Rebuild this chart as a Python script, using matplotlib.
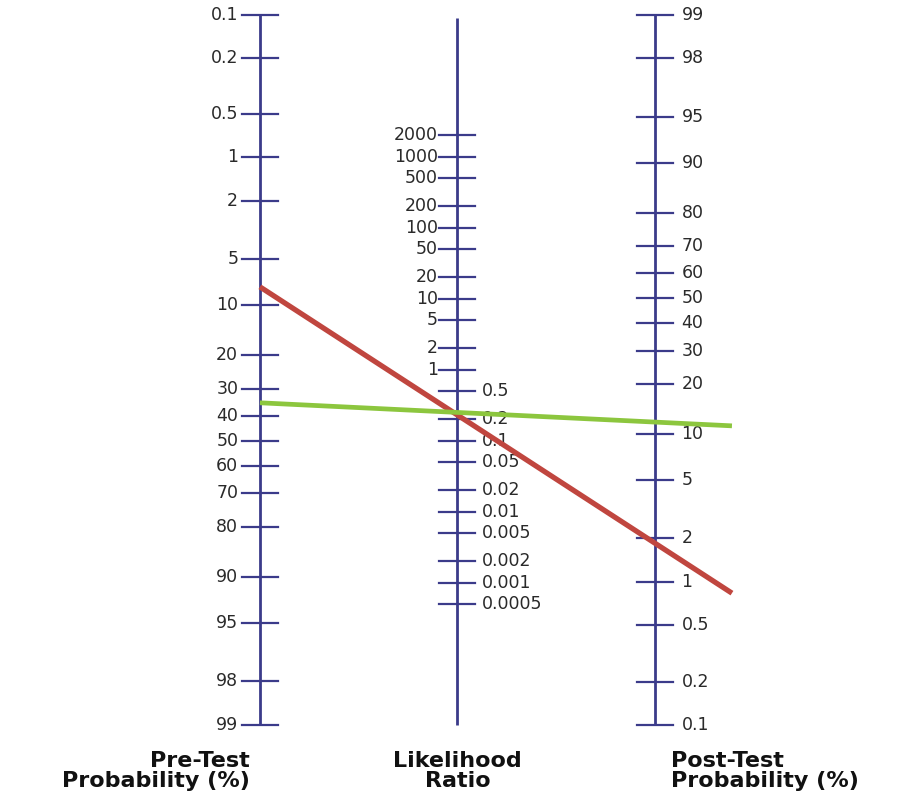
import numpy as np
import matplotlib
matplotlib.use("Agg")
import matplotlib.pyplot as plt

# Fagan nomogram: pre-test probability, likelihood ratio, post-test probability
pre_ticks = [0.1, 0.2, 0.5, 1, 2, 5, 10, 20, 30, 40, 50, 60, 70, 80, 90, 95, 98, 99]
lr_ticks = [2000, 1000, 500, 200, 100, 50, 20, 10, 5, 2, 1,
            0.5, 0.2, 0.1, 0.05, 0.02, 0.01, 0.005, 0.002, 0.001, 0.0005]
post_ticks = [99, 98, 95, 90, 80, 70, 60, 50, 40, 30, 20, 10, 5, 2, 1, 0.5, 0.2, 0.1]
pre_labels = ["0.1", "0.2", "0.5", "1", "2", "5", "10", "20", "30", "40", "50",
              "60", "70", "80", "90", "95", "98", "99"]
lr_labels = ["2000", "1000", "500", "200", "100", "50", "20", "10", "5", "2", "1",
             "0.5", "0.2", "0.1", "0.05", "0.02", "0.01", "0.005", "0.002", "0.001", "0.0005"]
post_labels = ["99", "98", "95", "90", "80", "70", "60", "50", "40", "30", "20",
               "10", "5", "2", "1", "0.5", "0.2", "0.1"]

# Two worked examples
example_pretest = [7.6, 35.0]          # percent
example_lr = [0.23, 0.25]
example_colors = ["#c0463f", "#8cc63e"]
example_widths = [3.8, 3.4]

AXIS_COLOR = "#3b3b8a"
TEXT_COLOR = "#2a2a2a"


def logit(p_percent):
    p = np.asarray(p_percent, dtype=float) / 100.0
    return np.log(p / (1.0 - p))


# Vertical coordinate: left scale reads -logit(pre), right scale logit(post) + shift,
# middle scale ln(LR)/2 + shift/2, so a straight line links the three readings.
def y_pre(p):
    return -logit(p)


def y_post(p):
    # 99 % on the right sits level with 0.1 % on the left
    return logit(p) - logit(99) + (-logit(0.1))


def y_lr(lr):
    return 0.5 * np.log(np.asarray(lr, dtype=float)) + 0.5 * (y_pre(50) + y_post(50))


fig = plt.figure(figsize=(9.02, 7.98), dpi=100)
ax = fig.add_axes([0, 0, 1, 1])
ax.set_xlim(-1.316, 3.251)
ax.set_ylim(-5.786, 7.147)
ax.axis("off")

x_left, x_mid, x_right = 0.0, 1.0, 2.0
tick_half = 0.091
top = y_pre(0.1)
bottom = y_pre(99)

# axis spines
for xa, ytop in ((x_left, top), (x_mid, top - 0.05), (x_right, top)):
    ax.plot([xa, xa], [bottom, ytop], color=AXIS_COLOR, lw=2.0, solid_capstyle="butt", zorder=2)

tick_font = dict(fontsize=12.5, color=TEXT_COLOR, family="DejaVu Sans")

# left scale
for v, lab in zip(pre_ticks, pre_labels):
    yy = y_pre(v)
    ax.plot([x_left - tick_half, x_left + tick_half], [yy, yy], color=AXIS_COLOR, lw=1.6, zorder=2)
    ax.text(x_left - 0.11, yy, lab, ha="right", va="center", **tick_font)

# middle scale
for v, lab in zip(lr_ticks, lr_labels):
    yy = y_lr(v)
    ax.plot([x_mid - tick_half, x_mid + tick_half], [yy, yy], color=AXIS_COLOR, lw=1.6, zorder=2)
    if v >= 1:
        ax.text(x_mid - 0.10, yy, lab, ha="right", va="center", **tick_font)
    else:
        ax.text(x_mid + 0.125, yy, lab, ha="left", va="center", **tick_font)

# right scale
for v, lab in zip(post_ticks, post_labels):
    yy = y_post(v)
    ax.plot([x_right - tick_half, x_right + tick_half], [yy, yy], color=AXIS_COLOR, lw=1.6, zorder=2)
    ax.text(x_right + 0.135, yy, lab, ha="left", va="center", **tick_font)

# example lines, extended a little past the post-test scale
x_end = 2.39
for pre, lr, col, lw in zip(example_pretest, example_lr, example_colors, example_widths):
    y0 = y_pre(pre)
    y1 = y_lr(lr)
    xs = np.array([x_left, x_end])
    ys = y0 + (xs - x_left) * (y1 - y0) / (x_mid - x_left)
    ax.plot(xs, ys, color=col, lw=lw, solid_capstyle="butt", zorder=3)

# scale titles
title_font = dict(fontsize=16, fontweight="bold", color="#111111", family="DejaVu Sans",
                  va="center", linespacing=1.0)
ax.text(x_left - 0.05, -5.35, "Pre-Test\nProbability (%)", ha="right", multialignment="right", **title_font)
ax.text(x_mid, -5.35, "Likelihood\nRatio", ha="center", multialignment="center", **title_font)
ax.text(x_right + 0.08, -5.35, "Post-Test\nProbability (%)", ha="left", multialignment="left", **title_font)

fig.savefig("out.png", dpi=100, facecolor="white")
